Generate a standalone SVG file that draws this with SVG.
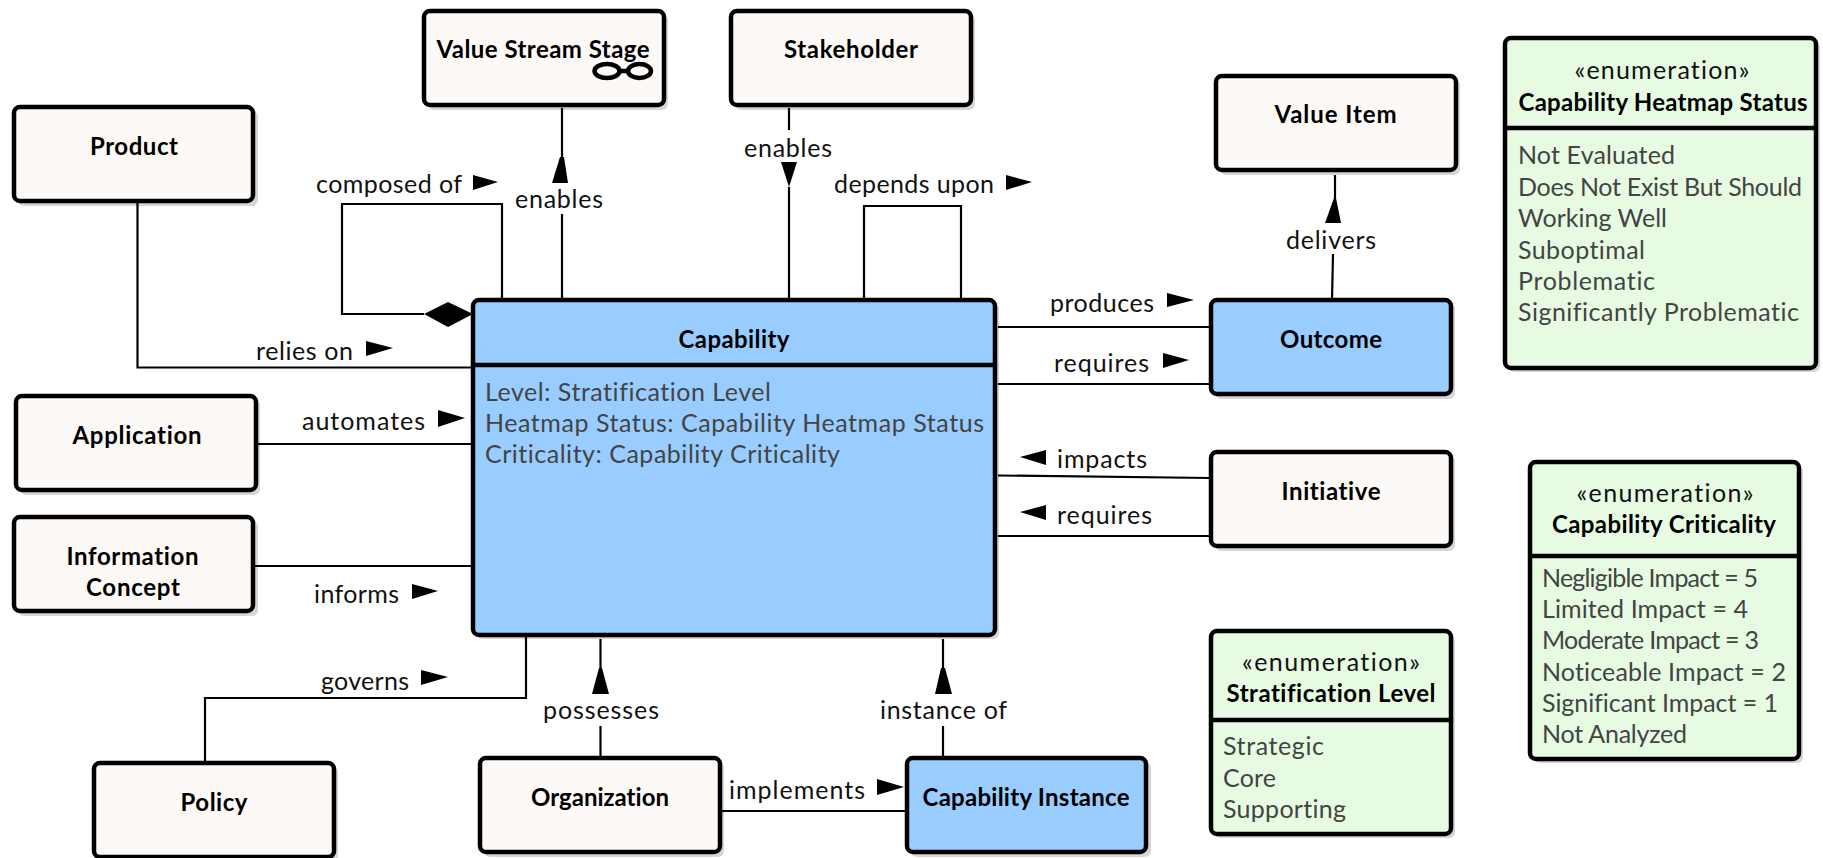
<svg xmlns="http://www.w3.org/2000/svg" width="1823" height="858" viewBox="0 0 1823 858">
<style>
text{font-family:"Lato","Carlito","Liberation Sans",sans-serif;font-size:25px;fill:#111;font-variant-ligatures:none;transform:translateY(.6px)}
.b{font-weight:700;font-size:24px;fill:#000;text-anchor:middle}
.c{text-anchor:middle}
.i{fill:#444}
.s{fill:#000;fill-opacity:.16}
.n{stroke:#000;stroke-width:4.5}
.w{fill:#fdf9f6}.u{fill:#99ccff}.g{fill:#e6fbe2}
.l{fill:none;stroke:#000;stroke-width:2.2}
.a{fill:#000}
</style>
<rect width="1823" height="858" fill="#fff"/>
<g id="connectors">
<path class="l" d="M502 300V204H342V314H424"/>
<polygon class="a" points="424,314 448,302 473,314 448,327"/>
<path class="l" d="M562 108V183M562 214V300"/>
<polygon class="a" points="560,157 564,157 568,183 552,183"/>
<path class="l" d="M789 108V130M789 187V300"/>
<polygon class="a" points="781,162 797,162 789,187"/>
<path class="l" d="M864 300V206H961V300"/>
<path class="l" d="M137.500 201V367.500H473"/>
<path class="l" d="M256 444H473M253 566H473"/>
<path class="l" d="M526 635V698H205V763"/>
<path class="l" d="M600.500 639V694M600.500 726V758"/>
<polygon class="a" points="599,668 602,668 609,694 592,694"/>
<path class="l" d="M943 639V694M943 726V758"/>
<polygon class="a" points="941,668 945,668 952,694 935,694"/>
<path class="l" d="M720 811H907"/>
<path class="l" d="M998 327H1211M998 384H1211M998 475.500L1211 478M998 536H1211"/>
<path class="l" d="M1335 175V198M1333 254L1332 300"/>
<polygon class="a" points="1334,198 1336,198 1341,223 1325,223"/>
<polygon class="a" points="473,175 498,182 473,190"/>
<polygon class="a" points="1006,175 1032,182 1006,190"/>
<polygon class="a" points="1167,293 1194,300 1167,307"/>
<polygon class="a" points="1163,353 1189,360 1163,368"/>
<polygon class="a" points="1046,450 1020,457 1046,465"/>
<polygon class="a" points="1046,505 1020,512 1046,520"/>
<polygon class="a" points="366,341 393,348 366,356"/>
<polygon class="a" points="438,410 465,418 438,427"/>
<polygon class="a" points="412,584 438,591 412,599"/>
<polygon class="a" points="421,670 448,677 421,685"/>
<polygon class="a" points="877,779 904,787 877,795"/>
<text x="316" y="192" textLength="146">composed of</text>
<text class="c" x="559" y="207" textLength="88">enables</text>
<text class="c" x="788" y="156" textLength="88">enables</text>
<text x="834" y="192" textLength="160">depends upon</text>
<text class="c" x="1331" y="248" textLength="90">delivers</text>
<text x="1050" y="311" textLength="104">produces</text>
<text x="1054" y="371" textLength="95">requires</text>
<text x="1057" y="467" textLength="90">impacts</text>
<text x="1057" y="523" textLength="95">requires</text>
<text x="256" y="359" textLength="97">relies on</text>
<text x="302" y="429" textLength="123">automates</text>
<text x="314" y="602" textLength="85">informs</text>
<text x="321" y="689" textLength="88">governs</text>
<text x="543" y="718" textLength="116">possesses</text>
<text x="880" y="718" textLength="127">instance of</text>
<text x="729" y="798" textLength="136">implements</text>
</g>
<g id="vss"><rect class="s" x="428" y="15" width="240" height="95" rx="6"/><rect class="n w" x="424" y="11" width="240" height="94" rx="6"/><text class="b" x="543" y="57" textLength="213">Value Stream Stage</text><ellipse cx="607" cy="71" rx="12.500" ry="7" fill="none" stroke="#000" stroke-width="4.500"/><ellipse cx="639.500" cy="71" rx="11.500" ry="7" fill="none" stroke="#000" stroke-width="4.500"/><path d="M619 71H628" stroke="#000" stroke-width="4.500"/></g>
<g id="stakeholder"><rect class="s" x="735" y="15" width="240" height="95" rx="6"/><rect class="n w" x="731" y="11" width="240" height="94" rx="6"/><text class="b" x="851" y="57" textLength="134">Stakeholder</text></g>
<g id="product"><rect class="s" x="18" y="111" width="240" height="95" rx="6"/><rect class="n w" x="14" y="107" width="239" height="94" rx="6"/><text class="b" x="134" y="154" textLength="88">Product</text></g>
<g id="application"><rect class="s" x="20" y="400" width="240" height="95" rx="6"/><rect class="n w" x="16" y="396" width="240" height="94" rx="6"/><text class="b" x="137" y="443" textLength="129">Application</text></g>
<g id="information"><rect class="s" x="18" y="521" width="240" height="95" rx="6"/><rect class="n w" x="14" y="517" width="239" height="94" rx="6"/><text class="b" x="132.500" y="564" textLength="132">Information</text><text class="b" x="133" y="595" textLength="94">Concept</text></g>
<g id="policy"><rect class="s" x="98" y="767" width="240" height="95" rx="6"/><rect class="n w" x="94" y="763" width="240" height="94" rx="6"/><text class="b" x="214" y="810" textLength="67">Policy</text></g>
<g id="organization"><rect class="s" x="484" y="762" width="240" height="95" rx="6"/><rect class="n w" x="480" y="758" width="240" height="94" rx="6"/><text class="b" x="600" y="805" textLength="138">Organization</text></g>
<g id="capabilityInstance"><rect class="s" x="911" y="762" width="240" height="95" rx="6"/><rect class="n u" x="907" y="758" width="239" height="94" rx="6"/><text class="b" x="1026" y="805" textLength="207">Capability Instance</text></g>
<g id="capability"><rect class="s" x="477" y="304" width="522" height="335" rx="6"/><rect class="n u" x="473" y="300" width="522" height="335" rx="6"/><path class="n" fill="none" d="M473 365H995"/><text class="b" x="734" y="347" textLength="111">Capability</text>
<text class="i" x="485" y="400" textLength="286">Level: Stratification Level</text><text class="i" x="485" y="431" textLength="499">Heatmap Status: Capability Heatmap Status</text><text class="i" x="485" y="462.500" textLength="355">Criticality: Capability Criticality</text></g>
<g id="outcome"><rect class="s" x="1215" y="304" width="240" height="95" rx="6"/><rect class="n u" x="1211" y="300" width="240" height="94" rx="6"/><text class="b" x="1331" y="347" textLength="102">Outcome</text></g>
<g id="initiative"><rect class="s" x="1215" y="456" width="240" height="95" rx="6"/><rect class="n w" x="1211" y="452" width="240" height="94" rx="6"/><text class="b" x="1331" y="499" textLength="99">Initiative</text></g>
<g id="valueItem"><rect class="s" x="1220" y="80" width="240" height="95" rx="6"/><rect class="n w" x="1216" y="76" width="240" height="94" rx="6"/><text class="b" x="1335.500" y="122" textLength="122">Value Item</text></g>
<g id="heatmap"><rect class="s" x="1509" y="42" width="311" height="330" rx="6"/><rect class="n g" x="1505" y="38" width="311" height="330" rx="6"/><path class="n" fill="none" d="M1505 128H1816"/><text class="c" x="1662" y="78" textLength="175">«enumeration»</text><text class="b" x="1663" y="110" textLength="289">Capability Heatmap Status</text>
<text class="i" x="1518" y="163" textLength="157">Not Evaluated</text><text class="i" x="1518" y="195" textLength="284">Does Not Exist But Should</text><text class="i" x="1518" y="226" textLength="149">Working Well</text><text class="i" x="1518" y="258" textLength="127">Suboptimal</text><text class="i" x="1518" y="289" textLength="137">Problematic</text><text class="i" x="1518" y="320" textLength="281">Significantly Problematic</text></g>
<g id="criticality"><rect class="s" x="1534" y="466" width="269" height="297" rx="6"/><rect class="n g" x="1530" y="462" width="269" height="297" rx="6"/><path class="n" fill="none" d="M1530 556H1799"/><text class="c" x="1665" y="501" textLength="177">«enumeration»</text><text class="b" x="1664" y="532" textLength="224">Capability Criticality</text>
<text class="i" x="1542" y="586" textLength="216">Negligible Impact = 5</text><text class="i" x="1542" y="617" textLength="206">Limited Impact = 4</text><text class="i" x="1542" y="648" textLength="217">Moderate Impact = 3</text><text class="i" x="1542" y="680" textLength="244">Noticeable Impact = 2</text><text class="i" x="1542" y="711" textLength="236">Significant Impact = 1</text><text class="i" x="1542" y="742" textLength="145">Not Analyzed</text></g>
<g id="stratification"><rect class="s" x="1215" y="635" width="240" height="203" rx="6"/><rect class="n g" x="1211" y="631" width="240" height="203" rx="6"/><path class="n" fill="none" d="M1211 720H1451"/><text class="c" x="1331" y="670" textLength="178">«enumeration»</text><text class="b" x="1331" y="701" textLength="209">Stratification Level</text>
<text class="i" x="1223" y="754" textLength="101">Strategic</text><text class="i" x="1223" y="786" textLength="53">Core</text><text class="i" x="1223" y="817" textLength="123">Supporting</text></g>
</svg>
